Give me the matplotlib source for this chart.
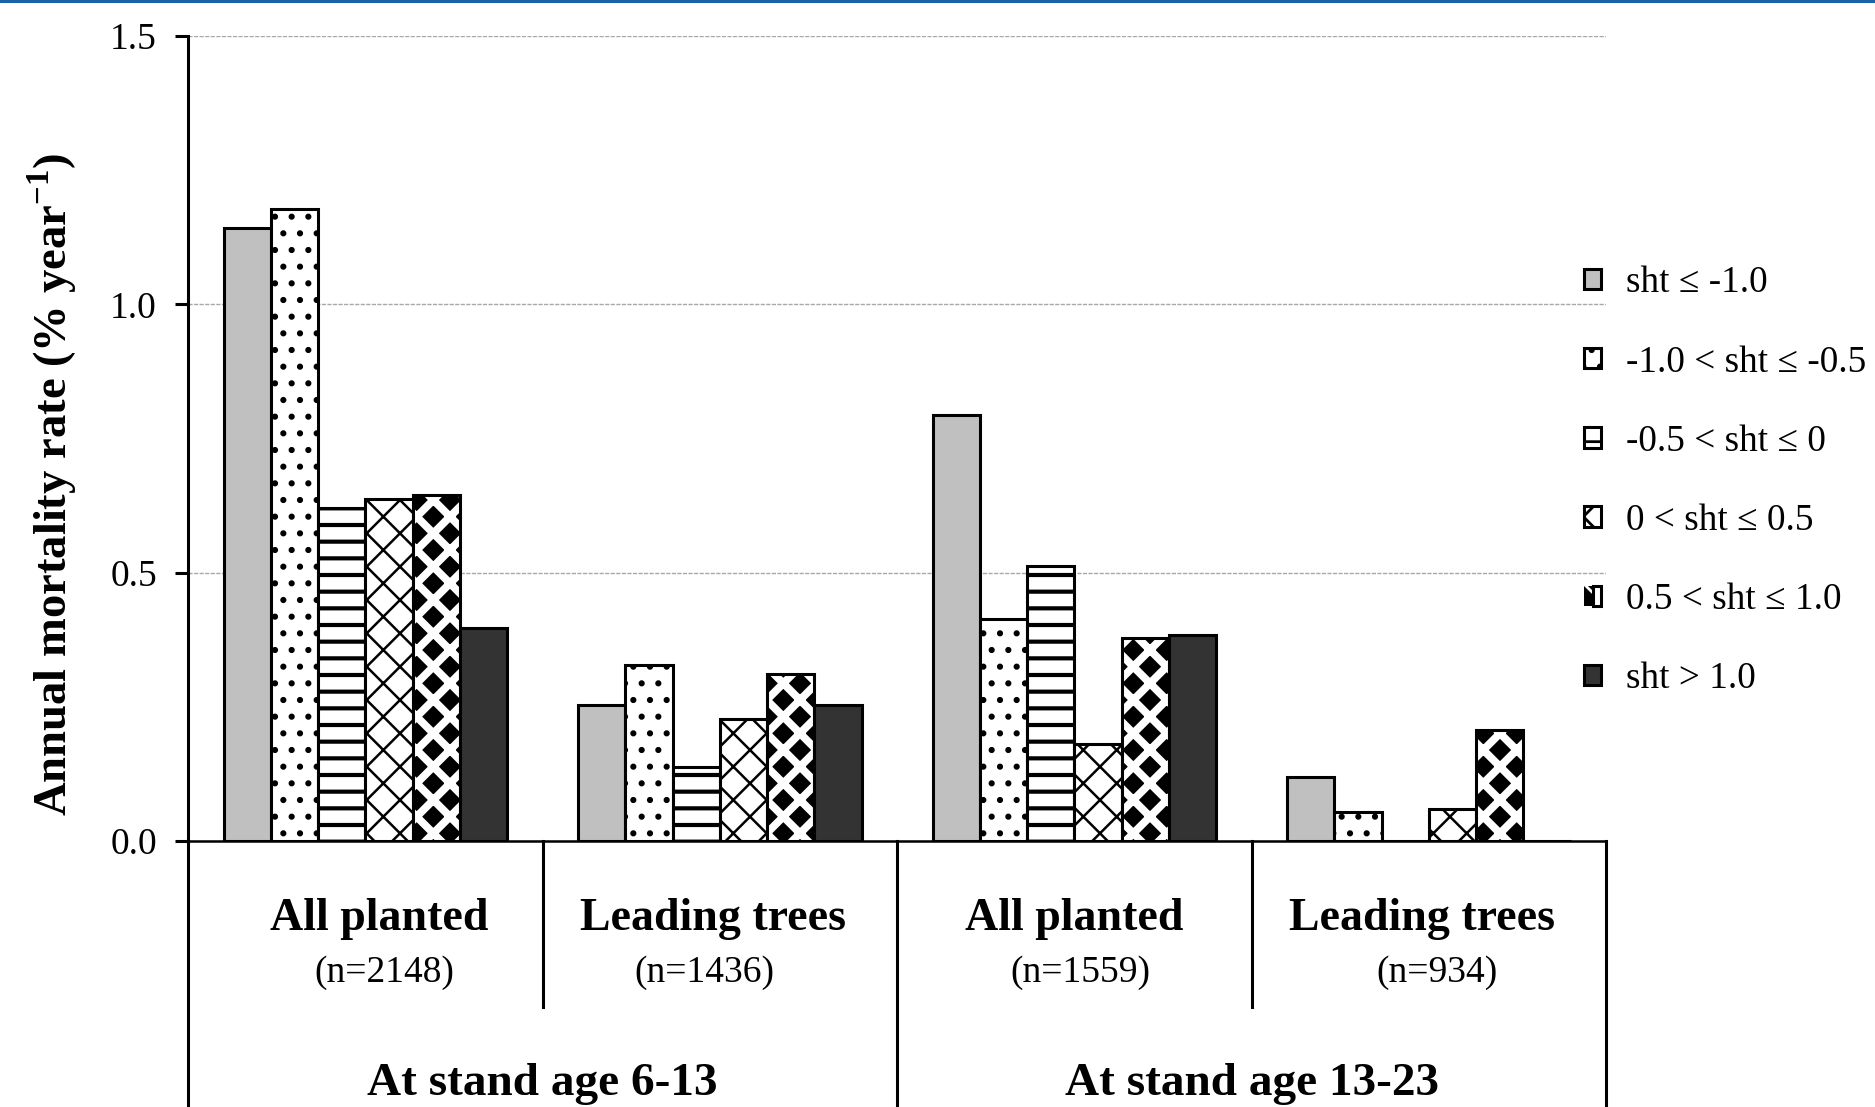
import numpy as np
import matplotlib
matplotlib.use('Agg')
from matplotlib import pyplot as plt
from matplotlib.legend_handler import HandlerTuple

# groups on the x axis
groups = ['All planted', 'Leading trees', 'All planted', 'Leading trees']
group_n = ['(n=2148)', '(n=1436)', '(n=1559)', '(n=934)']
stages = ['At stand age 6-13', 'At stand age 13-23']

# height classes (legend)
classes = ['sht ≤ -1.0', '-1.0 < sht ≤ -0.5', '-0.5 < sht ≤ 0',
           '0 < sht ≤ 0.5', '0.5 < sht ≤ 1.0', 'sht > 1.0']

# annual mortality rate (% per year), one list per height class, 4 groups each
sht_m10 = [1.143, 0.254, 0.794, 0.120]
sht_m10_m05 = [1.177, 0.327, 0.414, 0.054]
sht_m05_0 = [0.621, 0.138, 0.513, 0.0]
sht_0_05 = [0.638, 0.227, 0.181, 0.060]
sht_05_10 = [0.644, 0.311, 0.379, 0.206]
sht_10 = [0.396, 0.253, 0.384, 0.0]

yticks = [0.0, 0.5, 1.0, 1.5]
ytick_labels = ['0.0', '0.5', '1.0', '1.5']

# small horizontal nudges of the category texts (in group widths)
nudge_name = [0.04, -0.02, 0.0, -0.02]
nudge_n = [0.054, -0.044, 0.017, 0.024]

plt.rcParams['font.family'] = ['Liberation Serif', 'DejaVu Serif']
plt.rcParams['mathtext.fontset'] = 'custom'
plt.rcParams['mathtext.rm'] = 'Liberation Serif'
plt.rcParams['mathtext.bf'] = 'Liberation Serif:bold'

fig = plt.figure(figsize=(9.375, 5.535), dpi=200)
ax = fig.add_axes([0.1003, 0.2403, 0.7563, 0.7272])

x = np.arange(len(groups))
w = 1 / 7.5
lw = 1.1

# bars, one call per height class
b1 = ax.bar(x - 2.5 * w, sht_m10, w, color='#c0c0c0', edgecolor='black', linewidth=lw)
with plt.rc_context({'hatch.linewidth': 1.0}):
    b2 = ax.bar(x - 1.5 * w, sht_m10_m05, w, color='white', edgecolor='black', linewidth=lw, hatch='..')
with plt.rc_context({'hatch.linewidth': 1.5}):
    b3 = ax.bar(x - 0.5 * w, sht_m05_0, w, color='white', edgecolor='black', linewidth=lw, hatch='--')
with plt.rc_context({'hatch.linewidth': 0.9}):
    b4 = ax.bar(x + 0.5 * w, sht_0_05, w, color='white', edgecolor='black', linewidth=lw, hatch='xx')
# diamonds: black bar with thick white lattice, then the black outline on top
with plt.rc_context({'hatch.linewidth': 2.8}):
    b5a = ax.bar(x + 1.5 * w, sht_05_10, w, color='black', edgecolor='white', linewidth=0, hatch='xx')
b5b = ax.bar(x + 1.5 * w, sht_05_10, w, fill=False, edgecolor='black', linewidth=lw)
b6 = ax.bar(x + 2.5 * w, sht_10, w, color='#333333', edgecolor='black', linewidth=lw)

ax.set_xlim(-0.5, 3.5)
ax.set_ylim(0, 1.5)
ax.set_yticks(yticks)
ax.set_yticklabels(ytick_labels)
ax.set_xticks([])
ax.tick_params(axis='y', length=4.7, width=lw, pad=6.5, labelsize=13.5, direction='out')
ax.yaxis.grid(True, color='#a8a8a8', linestyle=(0, (3, 1)), linewidth=0.5)
ax.set_axisbelow(True)
for s in ['top', 'right']:
    ax.spines[s].set_visible(False)
ax.spines['left'].set_linewidth(lw)
ax.spines['bottom'].set_linewidth(0.9)

# category table below the axis
trans = ax.get_xaxis_transform()
for xb in [-0.5, 1.5, 3.5]:
    ax.plot([xb, xb], [0, -0.34], color='black', lw=lw, transform=trans, clip_on=False)
for xb in [0.5, 2.5]:
    ax.plot([xb, xb], [0, -0.206], color='black', lw=lw, transform=trans, clip_on=False)

for i in range(len(groups)):
    ax.text(x[i] + nudge_name[i], -0.097, groups[i], transform=trans, ha='center', va='center',
            fontsize=16.5, fontweight='bold')
    ax.text(x[i] + nudge_n[i], -0.164, group_n[i], transform=trans, ha='center', va='center',
            fontsize=13.5)
for k in range(len(stages)):
    ax.text(0.5 + 2 * k, -0.302, stages[k], transform=trans, ha='center', va='center',
            fontsize=17, fontweight='bold')

fig.text(52 / 1875, 1 - 484 / 1107, r'Annual mortality rate (% year$^{\mathbf{-1}}$)',
         rotation=90, ha='center', va='center', fontsize=16.8, fontweight='bold')

handles = [b1, b2, b3, b4, (b5a, b5b), b6]
fig.legend(handles, classes, loc='center left', bbox_to_anchor=(0.845, 1 - 481 / 1107),
           frameon=False, fontsize=13.4, handlelength=0.46, handleheight=0.46,
           handletextpad=0.67, labelspacing=1.2, borderpad=0, borderaxespad=0,
           handler_map={tuple: HandlerTuple(ndivide=None, pad=0)})

# blue rule at the top of the page
fig.add_artist(plt.Rectangle((0, 1 - 3 / 1107), 1, 3 / 1107, transform=fig.transFigure,
                             color='#1a63a8', linewidth=0))

fig.savefig('out.png', dpi=200)
